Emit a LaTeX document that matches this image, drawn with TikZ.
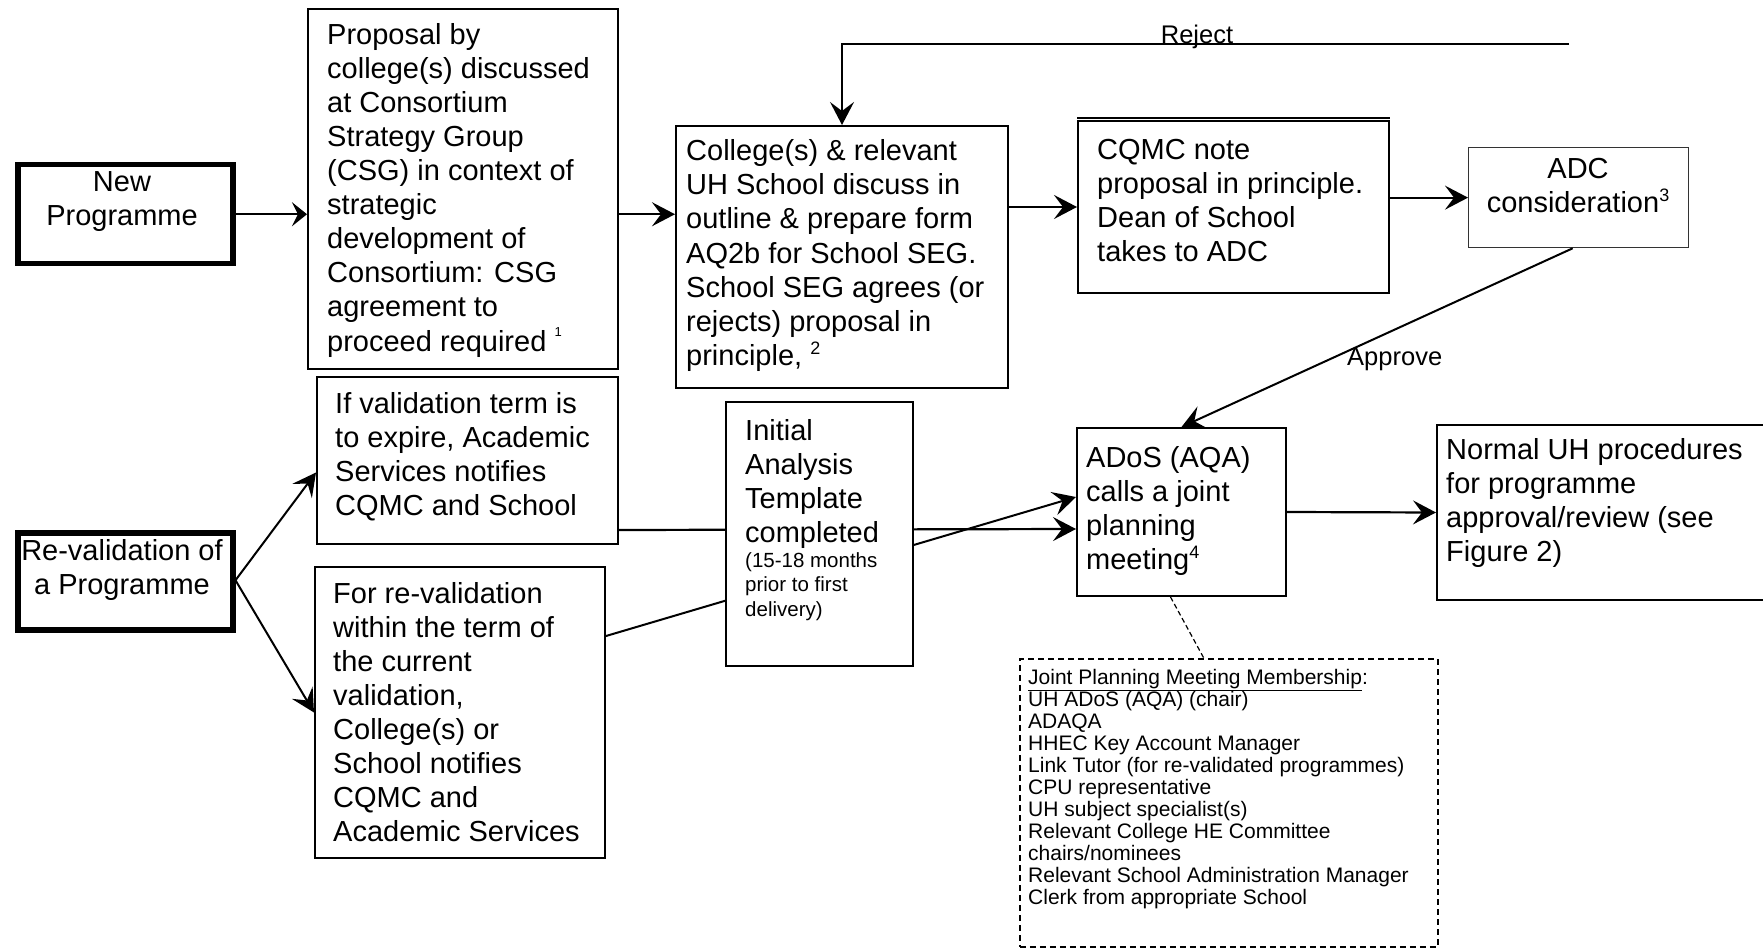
\documentclass[tikz,border=0pt]{standalone}
\usepackage{fontspec}
\setmainfont{Liberation Sans}
\usetikzlibrary{arrows.meta,calc}
\begin{document}
\begin{tikzpicture}[x=1pt,y=-1pt,
  box/.style={draw, line width=2pt, fill=white, inner sep=0pt, anchor=north west},
  heavy/.style={box, line width=5.5pt},
  thinbox/.style={box, line width=1.3pt, draw=black!80},
  dashbox/.style={draw, line width=1.5pt, dash pattern=on 6pt off 4pt, inner sep=0pt, anchor=north west},
  txt/.style={anchor=base west, align=left, inner sep=0pt, font=\fontsize{29pt}{34pt}\selectfont},
  ctxt/.style={anchor=base, align=center, inner sep=0pt, font=\fontsize{29pt}{34pt}\selectfont},
  smalltxt/.style={anchor=base west, align=left, inner sep=0pt, font=\fontsize{20.5pt}{24.5pt}\selectfont},
  listtxt/.style={anchor=base west, align=left, inner sep=0pt, font=\fontsize{21pt}{22pt}\selectfont},
  lbl/.style={inner sep=0pt, font=\fontsize{25.5pt}{30pt}\selectfont},
  tip/.style={-{Stealth[length=23pt,width=24pt,inset=9pt]}},
  arr/.style={line width=2.2pt, tip},
  thinarr/.style={line width=2pt, tip},
  shortarr/.style={line width=2.2pt, -{Stealth[length=15pt,width=24pt,inset=6pt]}},
  dotlnk/.style={line width=1.2pt, dash pattern=on 5pt off 3pt},
]
\useasboundingbox (0,0) rectangle (1763,949);

% ---- boxes (text nodes are placed by the baseline of their last line) ----
\node[heavy, minimum width=215pt, minimum height=99pt] (newp) at (15,162) {};
\node[ctxt] (newpT) at (122,226) {New\\Programme};

\node[box, minimum width=310pt, minimum height=360pt] (prop) at (307,8) {};
\node[txt] (propT) at (327,351) {Proposal by\\college(s) discussed\\at Consortium\\Strategy Group\\(CSG) in context of\\strategic\\development of\\Consortium: CSG\\agreement to\\proceed required\ {\fontsize{13pt}{13pt}\selectfont\raisebox{14pt}{1}}};

\node[box, minimum width=332pt, minimum height=262pt] (coll) at (675,125) {};
\node[txt] (collT) at (686,365) {College(s) \& relevant\\UH School discuss in\\outline \& prepare form\\AQ2b for School SEG.\\School SEG agrees (or\\rejects) proposal in\\principle, {\fontsize{18pt}{18pt}\selectfont\raisebox{11pt}{2}}};

\node[box, minimum width=311pt, minimum height=172pt] (cqmc) at (1077,120) {};
\draw[line width=2pt] ($(cqmc.north west)+(0,-1.8)$) -- ($(cqmc.north east)+(0,-1.8)$);
\node[txt] (cqmcT) at (1097,262) {CQMC note\\proposal in principle.\\Dean of School\\takes to ADC};

\node[thinbox, minimum width=220pt, minimum height=100pt] (adc) at (1468,147) {};
\node[ctxt] (adcT) at (1578,213) {ADC\\consideration{\fontsize{18pt}{18pt}\selectfont\raisebox{11pt}{3}}};

\node[box, minimum width=209pt, minimum height=168pt] (ados) at (1076,427) {};
\node[txt] (adosT) at (1086,569) {ADoS (AQA)\\calls a joint\\planning\\meeting{\fontsize{18pt}{18pt}\selectfont\raisebox{11pt}{4}}};

\node[box, minimum width=340pt, minimum height=175pt] (norm) at (1436,424) {};
\node[txt] (normT) at (1446,561) {Normal UH procedures\\for programme\\approval/review (see\\Figure 2)};

\node[heavy, minimum width=215pt, minimum height=97pt] (reval) at (15,530) {};
\node[ctxt] (revalT) at (122,594) {Re-validation of\\a Programme};

\node[box, minimum width=301pt, minimum height=167pt] (ifval) at (316,376) {};
\node[txt] (ifvalT) at (335,515) {If validation term is\\to expire, Academic\\Services notifies\\CQMC and School};

\node[box, minimum width=290pt, minimum height=291pt] (forval) at (314,566) {};
\node[txt] (forvalT) at (333,841) {For re-validation\\within the term of\\the current\\validation,\\College(s) or\\School notifies\\CQMC and\\Academic Services};

\node[dashbox, minimum width=418pt, minimum height=288pt] (jpm) at (1019,658) {};
\node[listtxt] (jpmT) at (1028,904) {\underline{Joint Planning Meeting Membership}:\\UH ADoS (AQA) (chair)\\ADAQA\\HHEC Key Account Manager\\Link Tutor (for re-validated programmes)\\CPU representative\\UH subject specialist(s)\\Relevant College HE Committee\\chairs/nominees\\Relevant School Administration Manager\\Clerk from appropriate School};

% ---- connectors ----
\draw[shortarr] (newp.east) -- (newp.east -| prop.west);
\draw[arr] (prop.east |- newp.east) -- (coll.west |- newp.east);
\draw[arr] (coll.east |- cqmc.west) -- (cqmc.west);
\draw[arr] (cqmc.east |- adc.west) -- (adc.west);

\coordinate (rejend) at (1569,44);
\draw[thinarr] (rejend) -| (coll.north);
\node[lbl, anchor=base] (rejL) at (1197,44) {Reject};

\draw[thinarr] ($(adc.south)+(-6,0)$) -- (ados.north);
\node[lbl, anchor=base west] (appL) at (1347,365) {Approve};

\draw[arr] (ados.east) -- (norm.west);

\draw[thinarr] ($(reval.east)+(0,-1)$) -- ($(ifval.west)+(0,12)$);
\draw[thinarr] ($(reval.east)+(0,-1)$) -- (forval.west);

% both routes pass behind the template box
\draw[arr] ($(ifval.south east)+(0,-15)$) -- ($(ados.west)+(0,17)$);
\draw[thinarr] ($(forval.north east)+(0,70)$) -- ($(ados.west)+(0,-15)$);

\node[box, minimum width=187pt, minimum height=264pt] (init) at (725,401) {};
\node[txt] (initT) at (745,542) {Initial\\Analysis\\Template\\completed};
\node[smalltxt] (initS) at (745,616) {(15-18 months\\prior to first\\delivery)};

\draw[dotlnk] ($(ados.south)+(-11,0)$) -- ($(jpm.north)+(-25,0)$);
\end{tikzpicture}
\end{document}
